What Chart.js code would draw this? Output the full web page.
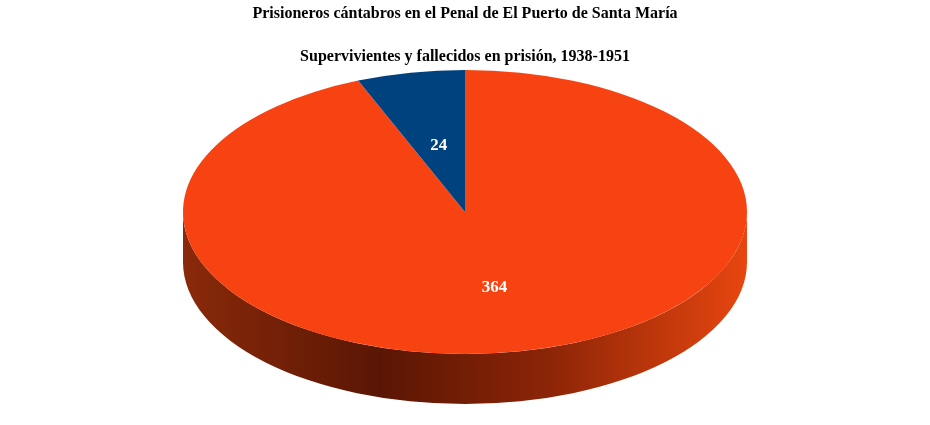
<!DOCTYPE html>
<html><head><meta charset="utf-8">
<script src="https://cdn.jsdelivr.net/npm/chart.js@4"></script>
<style>html,body{margin:0;padding:0;background:#fff}#w{width:930px;height:425px}</style>
</head><body><div id="w"><canvas id="c" width="930" height="425"></canvas></div>
<script>
const categories = ['Supervivientes', 'Fallecidos en prisión'];
const values = [364, 24];
const colors = ['#f74311', '#00427e'];
const titleText = 'Prisioneros cántabros en el Penal de El Puerto de Santa María';
const subtitleText = 'Supervivientes y fallecidos en prisión, 1938-1951';

const CX = 465, CY = 212, RX = 282, RY = 142, DEPTH = 50;
function xf(chart){
  const a = chart.getDatasetMeta(0).data[0];
  const R = a.outerRadius;
  return {cx:a.x, cy:a.y, sx:RX/R, sy:RY/R};
}
const pie3d = {
  id:'pie3d',
  beforeDatasetsDraw(chart){
    const ctx = chart.ctx;
    ctx.save();
    // side wall
    const g = ctx.createLinearGradient(CX-RX,0,CX+RX,0);
    g.addColorStop(0,'#8a2a0a');
    g.addColorStop(0.35,'#5a1604');
    g.addColorStop(0.65,'#8c2507');
    g.addColorStop(1,'#e8460f');
    ctx.beginPath();
    ctx.ellipse(CX,CY,RX,RY,0,0,Math.PI,false);
    ctx.lineTo(CX-RX,CY+DEPTH);
    ctx.ellipse(CX,CY+DEPTH,RX,RY,0,Math.PI,0,true);
    ctx.closePath();
    ctx.fillStyle=g; ctx.fill();
    const t = xf(chart);
    ctx.translate(CX,CY); ctx.scale(t.sx,t.sy); ctx.translate(-t.cx,-t.cy);
  },
  afterDatasetsDraw(chart){
    const ctx = chart.ctx;
    ctx.restore();
    const t = xf(chart);
    ctx.save();
    ctx.fillStyle='#fff';
    ctx.font='bold 17px "Liberation Serif", serif';
    ctx.textAlign='center'; ctx.textBaseline='middle';
    chart.getDatasetMeta(0).data.forEach((el,i)=>{
      const mid=(el.startAngle+el.endAngle)/2;
      const f = i===0?0.54:0.48;
      const r = el.outerRadius*f;
      const x = CX + Math.cos(mid)*r*t.sx;
      const y = CY + Math.sin(mid)*r*t.sy;
      ctx.fillText(String(values[i]), x, y);
    });
    ctx.restore();
  }
};
new Chart(document.getElementById('c'),{
  type:'pie',
  data:{labels:categories,datasets:[{data:values,backgroundColor:colors,borderWidth:0}]},
  options:{
    responsive:false,animation:false,
    layout:{padding:10},
    plugins:{
      legend:{display:false},tooltip:{enabled:false},
      title:{display:true,text:titleText,color:'#000',font:{family:'"Liberation Serif", serif',size:16,weight:'bold'},padding:{top:-6,bottom:24}},
      subtitle:{display:true,text:subtitleText,color:'#000',font:{family:'"Liberation Serif", serif',size:16,weight:'bold'},padding:{bottom:10}}
    }
  },
  plugins:[pie3d]
});
</script></body></html>
